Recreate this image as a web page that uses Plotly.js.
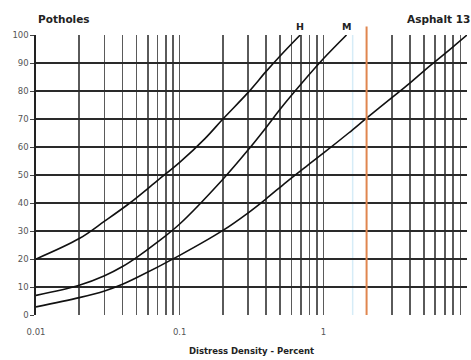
<!DOCTYPE html>
<html><head><meta charset="utf-8">
<script src="https://cdn.plot.ly/plotly-3.0.1.min.js"></script>
<style>html,body{margin:0;padding:0;background:#fff}#chart{width:471px;height:360px}</style>
</head><body><div id="chart"></div>
<script>
// Data
const H_x = [0.01, 0.02, 0.03, 0.045, 0.07, 0.1, 0.15, 0.2, 0.3, 0.4, 0.5, 0.69];
const H_y = [20, 27.3, 33.5, 40, 48, 54.5, 63, 70, 79.5, 87, 92.5, 100];
const M_x = [0.01, 0.02, 0.03, 0.04, 0.05, 0.07, 0.1, 0.2, 0.3, 0.4, 0.5, 0.7, 1, 1.45];
const M_y = [7, 10.6, 14, 17.3, 20.5, 26, 32.5, 48.5, 59, 67, 73.5, 82.5, 91.5, 100];
const L_x = [0.01, 0.02, 0.03, 0.04, 0.05, 0.1, 0.2, 0.3, 0.4, 0.55, 0.77, 1, 1.5, 2, 3, 4, 5, 6, 8, 10];
const L_y = [2.9, 6.2, 8.6, 11, 13.3, 21.3, 30.2, 36.5, 41.5, 47.4, 53.3, 57.8, 65, 70.3, 77.6, 82.8, 87.1, 90.5, 95.8, 100];
const decades = [0.01, 0.1, 1];
const decadeLabels = ["0.01", "0.1", "1", "10"];
const yTicks = [0, 10, 20, 30, 40, 50, 60, 70, 80, 90, 100];
const markerX = 2;
const faintX = 1.6;
const curveLabels = [{text: "H", x: 0.69}, {text: "M", x: 1.45}];

// Gridline positions (1..9 per decade), labels only at decades
const xVals = [], xText = [];
decades.forEach((d, i) => { for (let k = 1; k <= 9; k++) { xVals.push(d * k); xText.push(k === 1 ? decadeLabels[i] : ""); } });
xVals.push(10); xText.push(decadeLabels[3]);

const lineStyle = {color: "#111", width: 1.6, shape: "spline", smoothing: 1};
const traces = [
  {x: H_x, y: H_y, mode: "lines", line: lineStyle, hoverinfo: "skip", cliponaxis: false},
  {x: M_x, y: M_y, mode: "lines", line: lineStyle, hoverinfo: "skip", cliponaxis: false},
  {x: L_x, y: L_y, mode: "lines", line: lineStyle, hoverinfo: "skip", cliponaxis: false}
];

const FAM = "DejaVu Sans, Verdana, sans-serif";
const font = {family: FAM, size: 8.5, color: "#555"};
const layout = {
  width: 471, height: 360,
  margin: {l: 36, r: 4, t: 35, b: 45},
  paper_bgcolor: "#fff", plot_bgcolor: "#fff",
  showlegend: false,
  font: font,
  xaxis: {
    type: "log", range: [-2, 1],
    tickmode: "array", tickvals: xVals, ticktext: xText,
    showgrid: true, gridcolor: "#5a5a5a", gridwidth: 1.6,
    ticks: "", zeroline: false, showline: false,
    tickfont: font, automargin: false, ticklabelstandoff: 10,
    title: {text: "<b>Distress Density - Percent</b>", font: {family: FAM, size: 8.5, color: "#222"}, standoff: 12}
  },
  yaxis: {
    range: [0, 100], tickmode: "array", tickvals: yTicks,
    showgrid: true, gridcolor: "#2a2a2a", gridwidth: 1.6,
    ticks: "outside", ticklen: 4, tickcolor: "#444", tickwidth: 1,
    showline: true, linecolor: "#222", linewidth: 1.6,
    zeroline: false, tickfont: font, automargin: false
  },
  shapes: [
    {type: "line", xref: "x", yref: "paper", x0: faintX, x1: faintX, y0: 0, y1: 1, line: {color: "#d6ecf7", width: 1.5}, layer: "below"},
    {type: "line", xref: "x", yref: "paper", x0: markerX, x1: markerX, y0: 0, y1: 1.03, line: {color: "#e0864f", width: 2}}
  ],
  annotations: [
    {text: "<b>Potholes</b>", xref: "paper", yref: "paper", x: 0.0, y: 1.03, xanchor: "left", yanchor: "bottom", showarrow: false, font: {family: FAM, size: 10.5, color: "#222"}},
    {text: "<b>Asphalt 13</b>", xref: "paper", yref: "paper", x: 1.012, y: 1.03, xanchor: "right", yanchor: "bottom", showarrow: false, font: {family: FAM, size: 10.5, color: "#222"}}
  ].concat(curveLabels.map(c => ({text: "<b>" + c.text + "</b>", xref: "x", yref: "paper", x: Math.log10(c.x), y: 1.005, xanchor: "center", yanchor: "bottom", showarrow: false, font: {family: FAM, size: 9.5, color: "#222"}})))
};

Plotly.newPlot("chart", traces, layout, {displayModeBar: false, staticPlot: true});
</script></body></html>
